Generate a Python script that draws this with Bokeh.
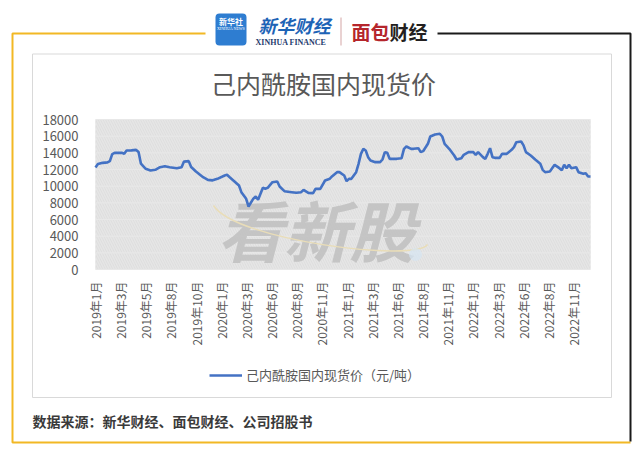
import math
from bokeh.plotting import figure
from bokeh.models import (Range1d, FixedTicker, Label, BoxAnnotation, Legend, LegendItem, LinearAxis)
from bokeh.embed import file_html
from bokeh.resources import INLINE

# ---------------- data ----------------
weeks = [0, 1, 3, 5, 6, 7, 8, 11, 12, 13, 15, 17, 18, 19, 21, 23, 25, 27, 29, 31,
         34, 36, 37, 39, 40, 42, 45, 47, 49, 51, 54, 55, 56, 58, 60, 61, 63, 64, 66, 67,
         68, 70, 71, 72, 74, 76, 77, 79, 82, 84, 86, 87, 89, 91, 92, 94, 96, 98, 99, 101,
         102, 104, 105, 106, 107, 109, 110, 111, 112, 113, 114, 115, 117, 119, 120, 121, 122, 123, 126, 128,
         129, 130, 132, 133, 135, 136, 137, 139, 140, 142, 144, 145, 146, 148, 150, 151, 153, 154, 156, 158,
         159, 160, 162, 163, 164, 165, 166, 167, 169, 170, 172, 174, 175, 176, 178, 179, 180, 182, 184, 186,
         187, 188, 190, 192, 194, 195, 196, 197, 198, 199, 201, 202, 204, 205, 206, 207]
price = [12250, 12650, 12800, 12850, 13000, 13850, 14000, 14000, 13900, 14280, 14300, 14350, 14100, 12700, 12080, 11880, 11960, 12280, 12400, 12280,
         12160, 12280, 12950, 13000, 12300, 11760, 11080, 10760, 10700, 10880, 11280, 11360, 11100, 10600, 10080, 9280, 8480, 7560, 8500, 8760,
         8360, 9800, 9700, 9800, 10480, 10560, 9960, 9400, 9280, 9200, 9280, 9560, 9200, 9160, 9680, 9680, 10680, 10900, 11200, 11680,
         11680, 11280, 10600, 10880, 10880, 11680, 12680, 13880, 14480, 14280, 13480, 13080, 12880, 12880, 13200, 14080, 14000, 13280, 13280, 13360,
         14480, 14760, 14480, 14480, 14560, 14080, 14200, 15080, 15960, 16200, 16280, 15960, 15080, 14450, 13680, 13200, 13350, 13760, 14080, 14080,
         13760, 14080, 13480, 13280, 13880, 14560, 13480, 13400, 13400, 13880, 13880, 14360, 14680, 15280, 15360, 14900, 14080, 13680, 13160, 12680,
         11960, 11680, 11760, 12560, 12160, 11900, 12560, 12160, 12560, 12160, 12280, 11680, 11480, 11560, 11160, 11160]

tick_labels = ["2019年1月", "2019年3月", "2019年5月", "2019年8月", "2019年10月",
               "2020年1月", "2020年3月", "2020年6月", "2020年8月", "2020年11月",
               "2021年1月", "2021年3月", "2021年6月", "2021年8月", "2021年11月",
               "2022年1月", "2022年3月", "2022年6月", "2022年8月", "2022年11月"]
label_every = 10.52   # weeks between two category labels
tick_pos = [round(i * label_every, 2) for i in range(len(tick_labels))]
y_ticks = [0, 2000, 4000, 6000, 8000, 10000, 12000, 14000, 16000, 18000]

title_text = "己内酰胺国内现货价"
series_name = "己内酰胺国内现货价（元/吨）"
source_text = "数据来源：新华财经、面包财经、公司招股书"

# ---------------- layout (page pixel coordinates) ----------------
W, H = 636, 450
PX0, PY0 = 0, 0
PX1, PY1 = PX0 + W, PY0 + H
FL, FR, FT, FB = 95, 590, 119, 269     # plot area
CJK = "Noto Sans CJK SC"
GRAY = "#595959"

# default ranges = page pixels (y downwards), used for decoration only
p = figure(width=W, height=H, output_backend="svg", toolbar_location=None,
           x_range=Range1d(PX0, PX1), y_range=Range1d(PY1, PY0),
           x_axis_type=None, y_axis_type=None, min_border=0)
p.outline_line_color = None
p.background_fill_color = "white"
p.border_fill_color = "white"

# data ranges placed so that the plot area is where it is in the reference
x_first, x_last = weeks[0], weeks[-1]
y_lo, y_hi = y_ticks[0], y_ticks[-1]
kx = (FR - FL) / (x_last - x_first)
ky = (FB - FT) / (y_hi - y_lo)
p.extra_x_ranges = {"wk": Range1d(x_first - (FL - PX0) / kx, x_last + (PX1 - FR) / kx)}
p.extra_y_ranges = {"price": Range1d(y_lo - (PY1 - FB) / ky, y_hi + (FT - PY0) / ky)}
D = dict(x_range_name="wk", y_range_name="price")

# plot area background with diagonal stripes
p.quad(left=[x_first], right=[x_last], bottom=[y_lo], top=[y_hi],
       fill_color="#DCDCDC", line_color=None, hatch_pattern="\\",
       hatch_color="#E6E6E6", hatch_scale=5, hatch_weight=1.5, level="underlay", **D)
# horizontal grid lines
p.segment(x0=[x_first] * len(y_ticks), x1=[x_last] * len(y_ticks), y0=y_ticks, y1=y_ticks,
          line_color="#E8E8E8", line_width=1, level="underlay", **D)

# watermark
p.add_layout(Label(x=316, y=227, text="看新股", text_font=CJK, text_font_size="66px",
                   text_font_style="bold italic", text_color="#BDBDBD", text_alpha=0.8,
                   text_align="center", text_baseline="middle", level="underlay"))
p.bezier(x0=[213], y0=[205], x1=[427], y1=[244], cx0=[235], cy0=[240],
         cx1=[415], cy1=[262], line_color="#E9DDB8", line_width=1.5)
p.scatter(x=[415], y=[254], size=13, fill_color="#D5E6F2", fill_alpha=0.7, line_color=None)

# series
r = p.line(weeks, price, line_color="#4472C4", line_width=2.6, **D)

# axes
yax = LinearAxis(y_range_name="price", ticker=FixedTicker(ticks=y_ticks), fixed_location=FL)
yax.axis_line_color = None
yax.major_tick_line_color = None
yax.minor_tick_line_color = None
yax.major_tick_out = 0
yax.major_label_standoff = 17
yax.major_label_text_font = CJK
yax.major_label_text_font_size = "13px"
yax.major_label_text_color = GRAY
p.add_layout(yax, "left")

xax = LinearAxis(x_range_name="wk", ticker=FixedTicker(ticks=tick_pos), fixed_location=FB)
xax.major_label_overrides = {t: s for t, s in zip(tick_pos, tick_labels)}
xax.major_label_orientation = math.pi / 2
xax.axis_line_color = None
xax.major_tick_line_color = None
xax.minor_tick_line_color = None
xax.major_tick_out = 0
xax.major_label_standoff = 12
xax.major_label_text_font = CJK
xax.major_label_text_font_size = "12px"
xax.major_label_text_color = GRAY
p.add_layout(xax, "below")

# legend
legend = Legend(items=[LegendItem(label=series_name, renderers=[r])],
                location=(209 - PX0, PY1 - 384), orientation="horizontal",
                glyph_width=33, glyph_height=18, label_height=18,
                label_standoff=4, padding=0, margin=0, spacing=0,
                border_line_color=None, background_fill_alpha=0,
                label_text_font=CJK, label_text_font_size="13px",
                label_text_color=GRAY)
p.add_layout(legend, "center")

# chart box
p.multi_line(xs=[[32, 611, 611, 32, 32]], ys=[[53.5, 53.5, 397, 397, 53.5]],
             line_color="#D9D9D9", line_width=1)

# outer frame lines
YEL = "#F2B824"
BLK = "#1A1A1A"
p.multi_line(xs=[[205, 12, 12, 630]], ys=[[33, 33, 442, 442]], line_color=YEL, line_width=2)
p.multi_line(xs=[[437, 630, 630]], ys=[[33, 33, 441]], line_color=BLK, line_width=2)


def label(x, y, text, size, color, align="left", font=CJK, style="normal"):
    p.add_layout(Label(x=x, y=y, text=text, text_font=font, text_font_size=size,
                       text_color=color, text_align=align, text_baseline="middle",
                       text_font_style=style))


# title and source
label(323, 82, title_text, "25px", GRAY, align="center")
label(32, 420, source_text, "14px", "#3A3A3A", style="bold")

# header logos
p.add_layout(BoxAnnotation(left=215, right=246, top=13, bottom=45, fill_color="#2E7DD1",
                           fill_alpha=1, line_alpha=0, border_radius=4))
label(230.5, 21, "新华社", "8px", "white", align="center", style="bold")
label(230.5, 27.5, "XINHUA NEWS", "4px", "white", align="center", font="Liberation Serif")
p.scatter(x=[222, 226, 230, 234, 238, 224, 230, 236], y=[38, 36, 35, 36, 38, 41, 40, 41],
          size=2, fill_color="white", line_color=None)
label(258, 24, "新华财经", "18px", "#1D63B6", style="bold italic")
label(255, 41.5, "XINHUA FINANCE", "8px", "#1F3C6E", font="Liberation Serif", style="bold")
p.segment(x0=[340.5], x1=[340.5], y0=[17], y1=[45], line_color="#D4A5A5", line_width=1)
label(351, 31, "面包", "19px", "#B5262C", style="bold")
label(389, 31, "财经", "19px", "#231F20", style="bold")

open("out.html", "w").write(file_html(p, INLINE))
